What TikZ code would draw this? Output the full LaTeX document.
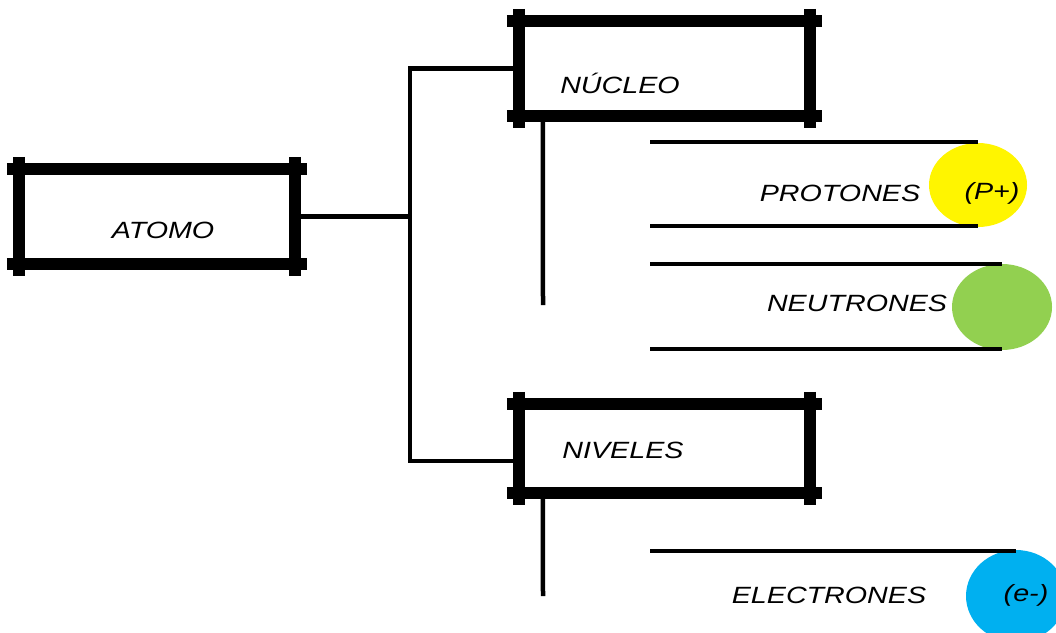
\documentclass[tikz,border=0pt]{standalone}
\usepackage{fontspec}
\usepackage{graphicx}
\setmainfont{Liberation Sans}
\usetikzlibrary{shapes.geometric}
\definecolor{protyellow}{HTML}{FFF500}
\definecolor{neutgreen}{HTML}{92D050}
\definecolor{elecblue}{HTML}{00B0F0}
\newcommand{\hw}[1]{\scalebox{1.22}[1]{#1}}
\tikzset{
  box/.style={rectangle, inner sep=0pt},
  framebar/.style={line width=12pt, line cap=butt},
  conn/.style={line width=4.5pt, line cap=butt},
  particle/.style={ellipse, inner sep=0pt, draw=none},
  lbl/.style={inner sep=0pt, font=\itshape\fontsize{23.5}{23.5}\selectfont, text=black}
}
\newcommand{\myframe}[1]{%
  \draw[framebar] ([xshift=-12pt]#1.north west) -- ([xshift=12pt]#1.north east);
  \draw[framebar] ([xshift=-12pt]#1.south west) -- ([xshift=12pt]#1.south east);
  \draw[framebar] ([yshift=12pt]#1.north west) -- ([yshift=-12pt]#1.south west);
  \draw[framebar] ([yshift=12pt]#1.north east) -- ([yshift=-12pt]#1.south east);
}
\begin{document}
\begin{tikzpicture}[x=1pt, y=-1pt]
\useasboundingbox[fill=white] (0,0) rectangle (1056,632);

% boxes
\node[box, minimum width=276pt, minimum height=95pt] (atomo) at (157,216.5) {};
\node[box, minimum width=291pt, minimum height=95pt] (nucleo) at (664.5,68.5) {};
\node[box, minimum width=291pt, minimum height=89pt] (niveles) at (664.5,448.5) {};

% connectors of the tree
\coordinate (j) at (410,216.5);
\coordinate (nivin) at (519,461);
\coordinate (nstem) at (543,305);
\coordinate (vstem) at (543,596);
\draw[conn] (atomo.east) -- (j);
\draw[conn] (nucleo.west) -| (j) |- (nivin);
\draw[conn] ([xshift=24pt]nucleo.south west) -- (nstem);
\draw[conn] ([xshift=24pt]niveles.south west) -- (vstem);

\myframe{atomo}
\myframe{nucleo}
\myframe{niveles}

\node[lbl] (tatomo) at (163,230) {\hw{ATOMO}};
\node[lbl] (tnucleo) at (620,83) {\hw{NÚCLEO}};
\node[lbl] (tniveles) at (623,450) {\hw{NIVELES}};

% particles
\node[particle, fill=protyellow, minimum width=98pt, minimum height=84pt] (prot) at (978,185) {};
\node[particle, fill=neutgreen, minimum width=100pt, minimum height=86pt] (neut) at (1002,307) {};
\node[particle, fill=elecblue, minimum width=100pt, minimum height=92pt] (elec) at (1016,596) {};

\coordinate (p1) at (650,142);
\coordinate (p2) at (650,226);
\coordinate (n1) at (650,264);
\coordinate (n2) at (650,349);
\coordinate (e1) at (650,551);
\draw[conn] (p1) -- (p1 -| prot.north);
\draw[conn] (p2) -- (p2 -| prot.south);
\draw[conn] (n1) -- (n1 -| neut.north);
\draw[conn] (n2) -- (n2 -| neut.south);
\draw[conn] (e1) -- (e1 -| elec.north);

\node[lbl] (tprot) at (840,193) {\hw{PROTONES}};
\node[lbl] (tpplus) at (992,193) {\hw{(P+)}};
\node[lbl] (tneut) at (857,303) {\hw{NEUTRONES}};
\node[lbl] (telec) at (829,595) {\hw{ELECTRONES}};
\node[lbl] (teminus) at (1026,595) {\hw{(e-)}};
\end{tikzpicture}
\end{document}
